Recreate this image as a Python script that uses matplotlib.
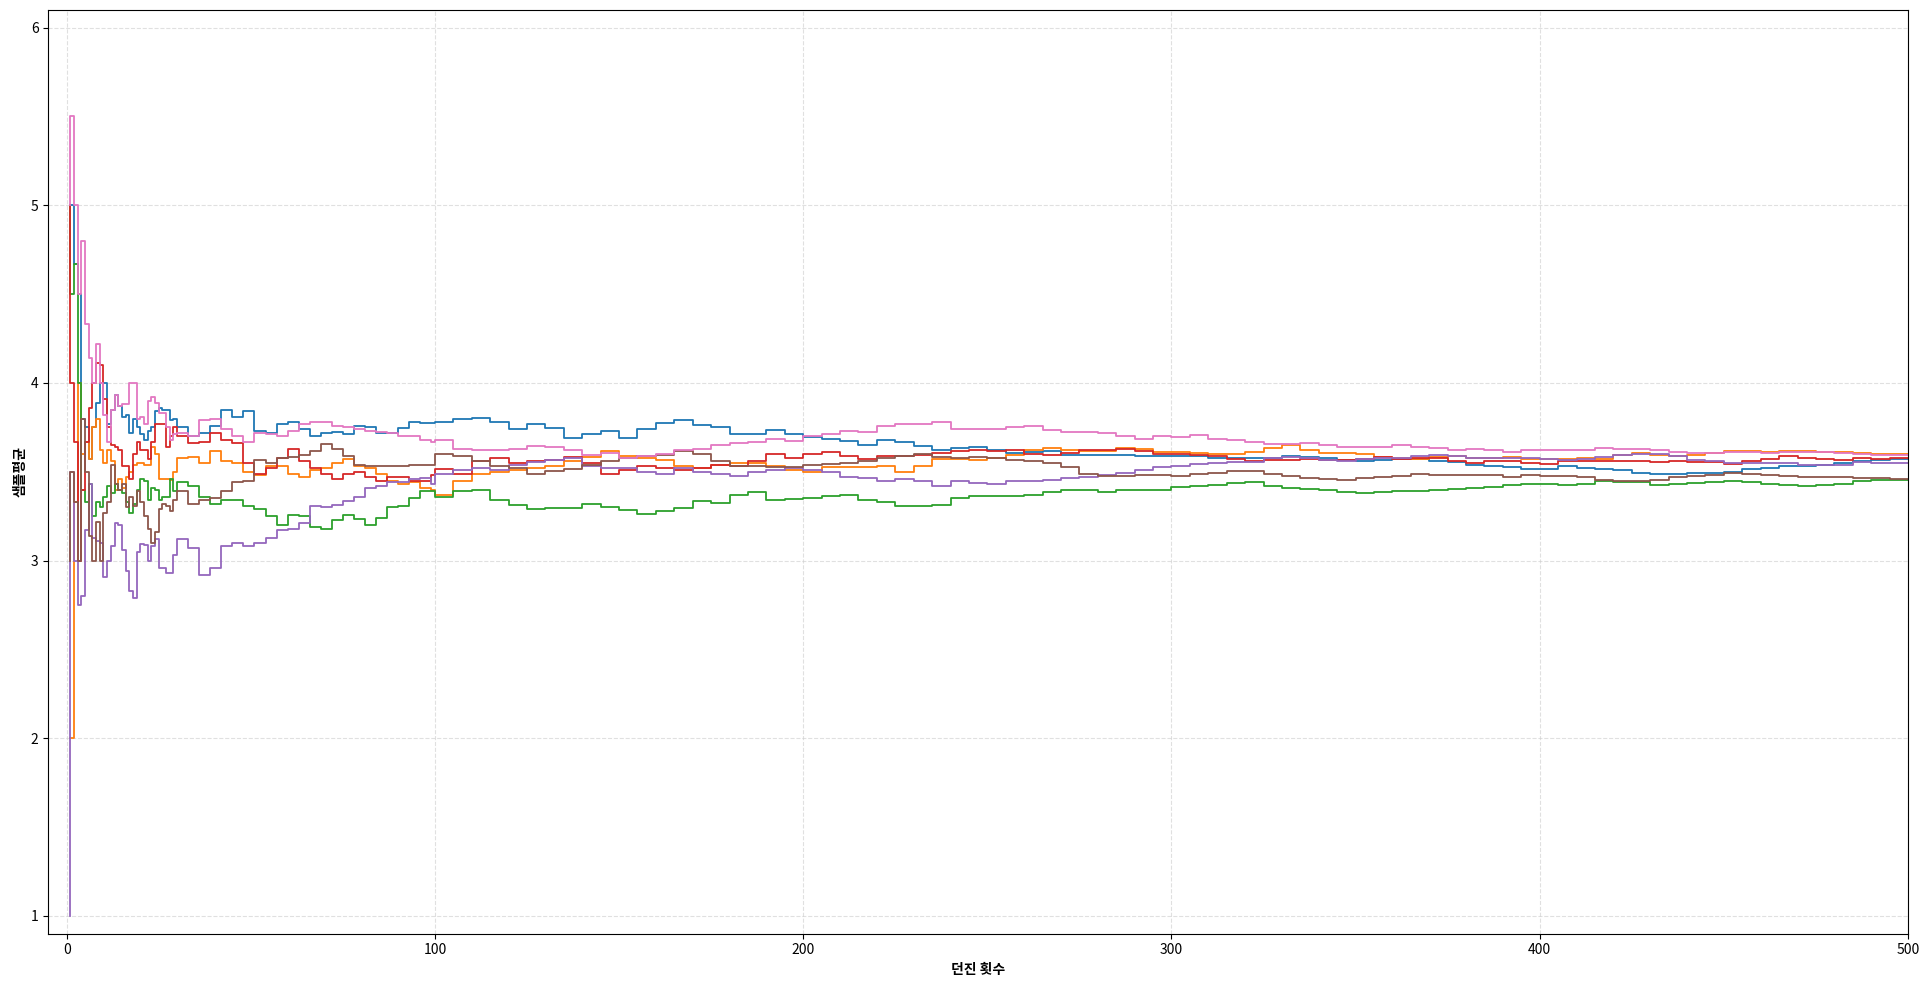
import matplotlib
matplotlib.use("Agg")
import matplotlib.pyplot as plt

plt.rcParams['font.family'] = ['Noto Sans CJK KR', 'DejaVu Sans']

# throw counts: every step to 30, every 3 to 99, every 5 to 500
n_early = list(range(1, 31))
n_mid = list(range(33, 100, 3))
n_late = list(range(100, 501, 5))
throws = n_early + n_mid + n_late

blue = [5.0, 5.0, 4.67, 4.5, 3.8, 3.75, 3.57, 3.75, 3.89, 4.0, 4.0, 3.77, 3.85, 3.93, 3.87, 3.81, 3.82, 3.72, 3.8, 3.75,
        3.71, 3.68, 3.73, 3.75, 3.84, 3.86, 3.85, 3.85, 3.79, 3.80,
        3.75, 3.70, 3.72, 3.76, 3.85, 3.81, 3.84, 3.73, 3.72, 3.77, 3.78, 3.74, 3.70, 3.72, 3.725, 3.71, 3.755, 3.75,
        3.72, 3.72, 3.745, 3.78, 3.775,
        3.775, 3.78, 3.80, 3.805, 3.78, 3.74, 3.77, 3.745, 3.69, 3.715, 3.73, 3.69, 3.74, 3.775, 3.79, 3.765, 3.75,
        3.715, 3.71, 3.733, 3.715, 3.695, 3.685, 3.672, 3.653, 3.68, 3.67, 3.643, 3.625, 3.634, 3.64, 3.62, 3.606,
        3.61, 3.615, 3.596, 3.596, 3.596, 3.596, 3.587, 3.59, 3.59, 3.59, 3.576, 3.576, 3.575, 3.575, 3.59, 3.586,
        3.576, 3.565, 3.563, 3.565, 3.572, 3.57, 3.563, 3.555, 3.54, 3.533, 3.525, 3.515, 3.515, 3.534, 3.52, 3.515,
        3.511, 3.496, 3.489, 3.489, 3.494, 3.493, 3.50, 3.515, 3.52, 3.53, 3.534, 3.54, 3.549, 3.558, 3.568, 3.571]

orange = [2.0, 2.0, 3.33, 4.0, 3.6, 3.67, 3.57, 3.75, 3.8, 3.62, 3.55, 3.62, 3.56, 3.4, 3.46, 3.41, 3.47, 3.5, 3.54, 3.55,
          3.55, 3.54, 3.54, 3.64, 3.6, 3.46, 3.46, 3.46, 3.455, 3.50,
          3.577, 3.586, 3.55, 3.615, 3.56, 3.55, 3.50, 3.483, 3.53, 3.53, 3.49, 3.47, 3.51, 3.52, 3.549, 3.57, 3.535,
          3.52, 3.49, 3.45, 3.43, 3.44, 3.41,
          3.40, 3.37, 3.45, 3.49, 3.50, 3.51, 3.52, 3.53, 3.56, 3.583, 3.615, 3.59, 3.578, 3.568, 3.53, 3.52, 3.54,
          3.55, 3.55, 3.53, 3.51, 3.50, 3.525, 3.527, 3.527, 3.53, 3.50, 3.535, 3.57, 3.572, 3.568, 3.575, 3.596,
          3.62, 3.634, 3.625, 3.615, 3.615, 3.634, 3.63, 3.614, 3.614, 3.608, 3.60, 3.60, 3.614, 3.633, 3.652, 3.62,
          3.608, 3.605, 3.60, 3.585, 3.576, 3.57, 3.585, 3.59, 3.578, 3.576, 3.585, 3.57, 3.57, 3.571, 3.577, 3.571,
          3.596, 3.605, 3.596, 3.587, 3.596, 3.605, 3.615, 3.618, 3.612, 3.615, 3.615, 3.612, 3.61, 3.605, 3.60, 3.602]

green = [5.0, 4.5, 4.67, 4.0, 3.4, 3.33, 3.43, 3.25, 3.33, 3.3, 3.36, 3.42, 3.38, 3.43, 3.40, 3.38, 3.33, 3.27, 3.32, 3.40,
         3.46, 3.45, 3.34, 3.41, 3.40, 3.34, 3.36, 3.36, 3.46, 3.39,
         3.44, 3.42, 3.36, 3.32, 3.34, 3.342, 3.31, 3.29, 3.25, 3.20, 3.255, 3.25, 3.19, 3.18, 3.23, 3.255, 3.235,
         3.20, 3.24, 3.30, 3.31, 3.35, 3.39,
         3.39, 3.36, 3.39, 3.40, 3.34, 3.315, 3.29, 3.296, 3.296, 3.32, 3.30, 3.283, 3.265, 3.277, 3.296, 3.334, 3.324,
         3.37, 3.384, 3.343, 3.345, 3.355, 3.362, 3.372, 3.34, 3.33, 3.31, 3.31, 3.315, 3.35, 3.364, 3.366, 3.362,
         3.37, 3.384, 3.395, 3.40, 3.384, 3.40, 3.395, 3.40, 3.413, 3.418, 3.425, 3.435, 3.44, 3.418, 3.41, 3.402,
         3.398, 3.389, 3.383, 3.385, 3.39, 3.392, 3.40, 3.405, 3.41, 3.417, 3.426, 3.43, 3.43, 3.427, 3.43, 3.446,
         3.44, 3.44, 3.427, 3.433, 3.437, 3.44, 3.446, 3.44, 3.433, 3.427, 3.42, 3.425, 3.432, 3.446, 3.455, 3.452]

red = [5.0, 4.0, 3.67, 3.0, 3.4, 3.67, 3.86, 4.0, 4.11, 4.1, 3.91, 3.75, 3.65, 3.64, 3.62, 3.53, 3.53, 3.46, 3.6, 3.67,
       3.62, 3.62, 3.57, 3.67, 3.77, 3.77, 3.77, 3.64, 3.70, 3.75,
       3.70, 3.66, 3.67, 3.717, 3.68, 3.66, 3.55, 3.49, 3.52, 3.58, 3.63, 3.56, 3.52, 3.49, 3.46, 3.49, 3.50, 3.47,
       3.45, 3.47, 3.47, 3.45, 3.45,
       3.484, 3.516, 3.49, 3.56, 3.575, 3.55, 3.56, 3.568, 3.583, 3.55, 3.49, 3.51, 3.53, 3.52, 3.51, 3.52, 3.54,
       3.53, 3.56, 3.60, 3.578, 3.60, 3.61, 3.59, 3.574, 3.59, 3.59, 3.596, 3.605, 3.615, 3.62, 3.615, 3.625,
       3.60, 3.595, 3.606, 3.625, 3.62, 3.63, 3.615, 3.60, 3.603, 3.595, 3.59, 3.57, 3.563, 3.567, 3.565, 3.57,
       3.567, 3.567, 3.572, 3.586, 3.572, 3.576, 3.58, 3.563, 3.552, 3.56, 3.558, 3.548, 3.545, 3.558, 3.558, 3.56,
       3.558, 3.558, 3.555, 3.558, 3.555, 3.555, 3.545, 3.558, 3.571, 3.59, 3.58, 3.571, 3.565, 3.577, 3.571, 3.577]

purple = [1.0, 3.5, 3.0, 2.75, 2.8, 3.17, 3.43, 3.125, 3.11, 3.1, 2.91, 3.0, 3.08, 3.21, 3.2, 3.06, 2.94, 2.83, 2.79, 3.05,
          3.095, 3.09, 3.0, 3.08, 3.12, 2.96, 2.96, 2.93, 2.93, 3.03,
          3.12, 3.07, 2.92, 2.957, 3.08, 3.10, 3.08, 3.10, 3.126, 3.17, 3.18, 3.21, 3.31, 3.30, 3.315, 3.333, 3.36,
          3.41, 3.42, 3.445, 3.44, 3.46, 3.465,
          3.43, 3.49, 3.51, 3.52, 3.51, 3.54, 3.553, 3.568, 3.578, 3.53, 3.52, 3.52, 3.50, 3.49, 3.52, 3.497, 3.49,
          3.475, 3.50, 3.51, 3.52, 3.51, 3.497, 3.47, 3.465, 3.446, 3.46, 3.446, 3.418, 3.446, 3.437, 3.43, 3.446,
          3.45, 3.456, 3.465, 3.47, 3.484, 3.493, 3.51, 3.525, 3.533, 3.545, 3.55, 3.557, 3.557, 3.575, 3.582, 3.58,
          3.567, 3.563, 3.57, 3.576, 3.58, 3.59, 3.595, 3.59, 3.58, 3.576, 3.58, 3.575, 3.572, 3.568, 3.57, 3.583,
          3.596, 3.602, 3.60, 3.587, 3.568, 3.558, 3.549, 3.549, 3.551, 3.549, 3.54, 3.54, 3.54, 3.553, 3.55, 3.55]

brown = [3.0, 3.5, 3.33, 3.0, 3.8, 3.5, 3.14, 3.0, 3.22, 3.0, 3.27, 3.33, 3.54, 3.43, 3.40, 3.43, 3.30, 3.36, 3.31, 3.39,
         3.33, 3.25, 3.18, 3.10, 3.16, 3.29, 3.32, 3.31, 3.28, 3.34,
         3.39, 3.32, 3.34, 3.35, 3.39, 3.44, 3.45, 3.567, 3.55, 3.577, 3.586, 3.596, 3.615, 3.655, 3.63, 3.59, 3.54,
         3.535, 3.53, 3.53, 3.53, 3.54, 3.54,
         3.54, 3.60, 3.59, 3.56, 3.53, 3.52, 3.49, 3.505, 3.515, 3.54, 3.56, 3.578, 3.587, 3.596, 3.615, 3.60, 3.56,
         3.535, 3.53, 3.527, 3.525, 3.54, 3.545, 3.55, 3.56, 3.575, 3.59, 3.60, 3.585, 3.578, 3.585, 3.575, 3.568,
         3.56, 3.55, 3.527, 3.49, 3.474, 3.474, 3.48, 3.48, 3.477, 3.49, 3.496, 3.507, 3.505, 3.49, 3.477, 3.464,
         3.458, 3.452, 3.465, 3.47, 3.475, 3.49, 3.48, 3.483, 3.483, 3.48, 3.47, 3.483, 3.476, 3.474, 3.472, 3.455,
         3.446, 3.446, 3.455, 3.47, 3.478, 3.483, 3.493, 3.49, 3.483, 3.474, 3.47, 3.47, 3.468, 3.465, 3.463, 3.459]

pink = [5.0, 5.5, 5.0, 4.5, 4.8, 4.33, 4.14, 4.0, 4.22, 4.0, 3.82, 3.67, 3.85, 3.93, 3.87, 3.88, 3.88, 4.0, 4.0, 3.80,
        3.81, 3.77, 3.9, 3.92, 3.89, 3.83, 3.83, 3.75, 3.68, 3.71,
        3.72, 3.70, 3.79, 3.80, 3.74, 3.70, 3.67, 3.72, 3.715, 3.70, 3.73, 3.77, 3.78, 3.78, 3.755, 3.75, 3.74,
        3.73, 3.725, 3.72, 3.70, 3.70, 3.68,
        3.67, 3.68, 3.63, 3.625, 3.625, 3.63, 3.645, 3.64, 3.62, 3.596, 3.606, 3.58, 3.59, 3.60, 3.625, 3.628, 3.653,
        3.66, 3.67, 3.685, 3.675, 3.70, 3.715, 3.728, 3.722, 3.756, 3.77, 3.77, 3.78, 3.74, 3.74, 3.74, 3.75,
        3.755, 3.737, 3.722, 3.722, 3.718, 3.70, 3.685, 3.70, 3.695, 3.708, 3.685, 3.68, 3.67, 3.655, 3.655, 3.66,
        3.652, 3.642, 3.642, 3.642, 3.65, 3.64, 3.633, 3.624, 3.627, 3.624, 3.614, 3.625, 3.625, 3.624, 3.624, 3.633,
        3.627, 3.627, 3.624, 3.609, 3.605, 3.605, 3.61, 3.61, 3.605, 3.61, 3.61, 3.61, 3.605, 3.602, 3.596, 3.596]

series = [blue, orange, green, red, purple, brown, pink]
colors = ['#1f77b4', '#ff7f0e', '#2ca02c', '#d62728', '#9467bd', '#8c564b', '#e377c2']

fig = plt.figure(figsize=(19.3, 9.86), dpi=100)
ax = fig.add_axes([0.025, 0.053, 0.9636, 0.937])

for vals, c in zip(series, colors):
    ax.step(throws, vals, where='pre', color=c, linewidth=1.3)

ax.set_xlim(-5, 500)
ax.set_ylim(0.9, 6.1)
ax.set_xticks([0, 100, 200, 300, 400, 500])
ax.set_yticks([1, 2, 3, 4, 5, 6])
ax.tick_params(labelsize=10)
ax.grid(True, linestyle='--', color='#cccccc', alpha=0.6, linewidth=0.8)
ax.set_xlabel('던진 횟수', fontsize=10, fontweight='bold', labelpad=4)
ax.set_ylabel('샘플평균', fontsize=10, fontweight='bold', labelpad=2)

fig.savefig('out.png', dpi=100)
